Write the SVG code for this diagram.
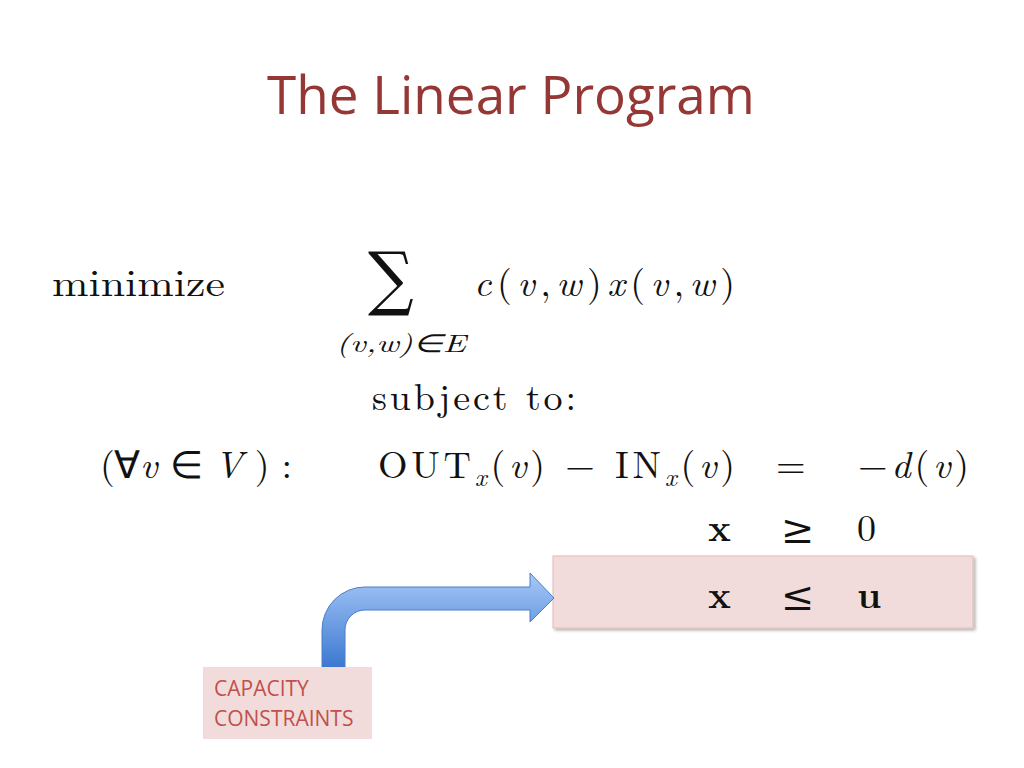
<svg xmlns="http://www.w3.org/2000/svg" width="1024" height="768" viewBox="0 0 1024 768">
<style>
.m{font-family:"Latin Modern Roman","Liberation Serif",serif;font-size:38px;fill:#111}
.i{font-style:italic}
.s{font-family:"Latin Modern Roman","Liberation Serif",serif;font-size:25px;fill:#111}
.b{font-weight:bold}
.r{font-family:"DejaVu Serif",serif;font-size:40px;fill:#111}
</style>
<defs>
<linearGradient id="g" x1="0" y1="0" x2="0" y2="1">
<stop offset="0" stop-color="#a8c8f8"/><stop offset="1" stop-color="#3a78d0"/>
</linearGradient>
<filter id="sh" x="-5%" y="-10%" width="115%" height="130%"><feDropShadow dx="2" dy="2" stdDeviation="1.5" flood-opacity="0.3"/></filter>
</defs>
<rect width="1024" height="768" fill="#fff"/>
<text x="511" y="114" text-anchor="middle" font-family="Open Sans, Liberation Sans, sans-serif" font-size="53" fill="#953735">The Linear Program</text>
<g id="math">
<text class="m" x="52" y="296" textLength="173" lengthAdjust="spacingAndGlyphs">minimize</text>
<text x="368" y="302" font-family="DejaVu Serif, serif" font-size="64" fill="#111" transform="translate(368 302) scale(1 1.1) translate(-368 -302)">∑</text>
<text class="s i" x="336" y="352" textLength="130" lengthAdjust="spacingAndGlyphs">(v,w)∈E</text>
<text class="m" x="474" y="296" textLength="261"><tspan class="i">c</tspan>(<tspan class="i">v</tspan>,<tspan class="i">w</tspan>)<tspan class="i">x</tspan>(<tspan class="i">v</tspan>,<tspan class="i">w</tspan>)</text>
<text class="m" x="372" y="410" textLength="204">subject to:</text>
<text class="m" x="100" y="478" textLength="192">(∀<tspan class="i">v</tspan> ∈ <tspan class="i">V</tspan> ) :</text>
<text class="m" x="378" y="478" textLength="357">OUT<tspan class="i" font-size="26" dy="8">x</tspan><tspan dy="-8">(</tspan><tspan class="i">v</tspan>) − IN<tspan class="i" font-size="26" dy="8">x</tspan><tspan dy="-8">(</tspan><tspan class="i">v</tspan>)</text>
<text class="m" x="776" y="478" font-size="42">=</text>
<text class="m" x="858" y="478" textLength="111">−<tspan class="i">d</tspan>(<tspan class="i">v</tspan>)</text>
</g>
<g id="capbox"><rect x="553" y="556" width="420" height="72" fill="#f2dcdb" stroke="#e6b9b8" filter="url(#sh)"/></g>
<g id="ineq">
<text class="m b" x="708" y="541">x</text><text class="r" x="781" y="543">≥</text><text class="m" x="857" y="541">0</text>
<text class="m b" x="708" y="608">x</text><text class="r" x="781" y="610">≤</text><text class="m b" x="857" y="608">u</text>
</g>
<g id="connectors">
<path d="M322 668 V630 A43 43 0 0 1 365 587 H530 V573 L554 598 L530 622 V610 H365 A20 20 0 0 0 345 630 V668 Z" fill="url(#g)" stroke="#4a7ec8" stroke-width="1"/>
</g>
<g id="label">
<rect x="203" y="667" width="169" height="72" fill="#f2dcdb"/>
<text x="214" y="696" font-family="Open Sans, Liberation Sans, sans-serif" font-size="21" fill="#c0504d">CAPACITY</text>
<text x="214" y="726" font-family="Open Sans, Liberation Sans, sans-serif" font-size="21" fill="#c0504d">CONSTRAINTS</text>
</g>
</svg>
